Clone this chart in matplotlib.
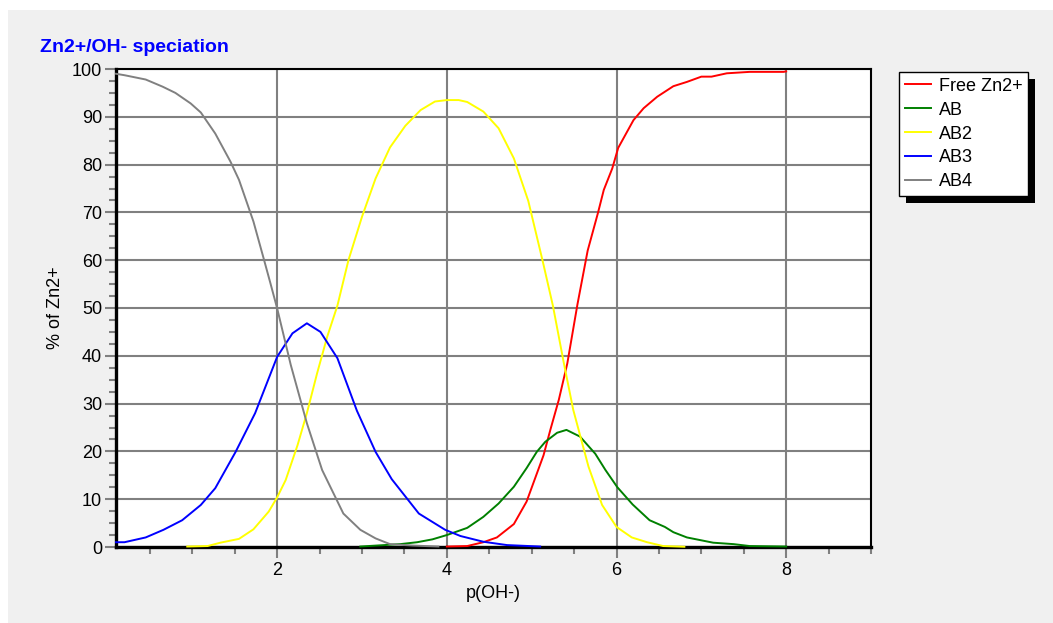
import matplotlib
matplotlib.use('Agg')
import matplotlib.pyplot as plt
from matplotlib.patches import Rectangle
from matplotlib.ticker import MultipleLocator

plt.rcParams['font.family'] = ['Liberation Sans', 'DejaVu Sans']

# series (x = p(OH-), y = % of Zn2+)
# zero stretches lie under the thick bottom axis, so they are left out
free_x = [4.0, 4.24, 4.43, 4.59, 4.79, 4.94, 5.14, 5.22, 5.32, 5.42, 5.54, 5.66, 5.78,
          5.85, 5.95, 6.02, 6.2, 6.32, 6.48, 6.67, 6.83, 7.0, 7.12, 7.3, 7.57, 7.97, 8.0]
free_y = [0.1, 0.2, 1.0, 2.0, 4.8, 9.5, 19.2, 24.5, 30.8, 38.4, 50.8, 62.0, 69.8,
          74.7, 79.2, 83.5, 89.3, 91.8, 94.2, 96.4, 97.3, 98.4, 98.4, 99.1, 99.4, 99.4, 99.5]

ab_x = [2.98, 3.45, 3.65, 3.83, 4.0, 4.24, 4.43, 4.61, 4.79, 4.94, 5.06, 5.16, 5.3,
        5.41, 5.57, 5.75, 5.87, 6.01, 6.19, 6.39, 6.57, 6.67, 6.83, 7.14, 7.38, 7.57, 8.0]
ab_y = [0.1, 0.6, 1.0, 1.6, 2.5, 4.0, 6.3, 9.1, 12.6, 16.5, 19.9, 22.0, 23.9,
        24.5, 23.1, 19.5, 16.1, 12.5, 8.9, 5.6, 4.2, 3.1, 2.0, 0.9, 0.6, 0.2, 0.1]

ab2_x = [0.94, 1.18, 1.33, 1.55, 1.72, 1.9, 2.0, 2.1, 2.24, 2.35, 2.47, 2.59, 2.71,
         2.84, 3.0, 3.16, 3.33, 3.51, 3.69, 3.86, 4.0, 4.14, 4.24, 4.43, 4.61, 4.79, 4.96,
         5.13, 5.25, 5.38, 5.49, 5.67, 5.83, 6.0, 6.18, 6.36, 6.55, 6.8]
ab2_y = [0.1, 0.2, 0.9, 1.7, 3.7, 7.4, 10.4, 14.0, 21.3, 28.0, 36.3, 44.0, 50.5,
         60.0, 69.1, 77.1, 83.6, 88.1, 91.4, 93.2, 93.5, 93.5, 93.1, 91.1, 87.6, 81.3, 72.4,
         59.8, 50.5, 38.4, 28.7, 16.8, 8.8, 4.2, 2.0, 1.0, 0.2, 0.05]

ab3_x = [0.1, 0.2, 0.45, 0.66, 0.88, 1.1, 1.27, 1.51, 1.74, 2.0, 2.18, 2.35, 2.51, 2.71,
         2.94, 3.16, 3.35, 3.67, 3.98, 4.16, 4.43, 4.71, 5.1]
ab3_y = [1.0, 1.0, 2.0, 3.6, 5.6, 8.8, 12.3, 19.9, 28.0, 39.8, 44.7, 46.8, 45.0, 39.5,
         28.5, 19.9, 14.2, 7.0, 3.6, 2.3, 1.1, 0.4, 0.1]

ab4_x = [0.1, 0.2, 0.45, 0.65, 0.8, 0.98, 1.1, 1.27, 1.45, 1.55, 1.72, 1.84, 1.92, 2.0,
         2.16, 2.35, 2.53, 2.78, 2.98, 3.16, 3.33, 3.6, 3.9]
ab4_y = [99.0, 98.7, 97.8, 96.3, 95.0, 92.8, 90.9, 86.5, 80.6, 76.8, 68.1, 60.4, 55.2, 49.9,
         38.1, 25.9, 16.1, 7.0, 3.6, 1.8, 0.6, 0.3, 0.1]

labels = ['Free Zn2+', 'AB', 'AB2', 'AB3', 'AB4']
colors = ['#ff0000', '#008000', '#ffff00', '#0000ff', '#808080']

fig = plt.figure(figsize=(10.53, 6.23), dpi=100, facecolor='white')
fig.patches.append(Rectangle((8 / 1053, 0), 1, 1 - 10 / 623, transform=fig.transFigure,
                             facecolor='#f0f0f0', edgecolor='none', zorder=-10))

ax = fig.add_axes([116 / 1053, 1 - 547 / 623, 755 / 1053, 478 / 623])
ax.set_facecolor('white')

series = [(free_x, free_y), (ab_x, ab_y), (ab2_x, ab2_y), (ab3_x, ab3_y), (ab4_x, ab4_y)]
for (xs, ys), lab, c in zip(series, labels, colors):
    ax.plot(xs, ys, color=c, lw=1.4, label=lab, zorder=3, clip_on=False)

ax.set_xlim(0.1, 9.0)
ax.set_ylim(0, 100)
ax.xaxis.set_major_locator(MultipleLocator(2))
ax.xaxis.set_minor_locator(MultipleLocator(0.5))
ax.yaxis.set_major_locator(MultipleLocator(10))
ax.yaxis.set_minor_locator(MultipleLocator(2.5))
ax.grid(True, which='major', color='#808080', lw=1.5)
ax.set_axisbelow(True)

ax.tick_params(which='major', length=8, width=1.5, color='#808080', labelsize=13, pad=3)
ax.tick_params(which='minor', length=5, width=1.5, color='#808080')
ax.tick_params(axis='y', which='major', pad=2)

for side in ['left', 'bottom']:
    ax.spines[side].set_linewidth(2.4)
for side in ['top', 'right']:
    ax.spines[side].set_linewidth(1.5)
for s in ax.spines.values():
    s.set_color('black')
    s.set_zorder(2.6)

ax.set_xlabel('p(OH-)', fontsize=13, labelpad=4)
ax.set_ylabel('% of Zn2+', fontsize=13, labelpad=6)

fig.text(40 / 1053, 1 - 48 / 623, 'Zn2+/OH- speciation', color='#0000ff', fontsize=14,
         fontweight='bold', va='center', ha='left')

leg = fig.legend(loc='upper left', bbox_to_anchor=(899 / 1053, 1 - 72 / 623),
                 borderaxespad=0, fontsize=13, frameon=True, fancybox=False,
                 edgecolor='black', framealpha=1, handlelength=1.45, handletextpad=0.42,
                 labelspacing=0.38, borderpad=0.32)
leg.get_frame().set_linewidth(1.0)
leg.set_zorder(5)

fig.canvas.draw()
bb = leg.get_window_extent()
fig.patches.append(Rectangle((bb.x0 + 7, bb.y0 - 7), bb.width, bb.height, transform=None,
                             facecolor='black', edgecolor='none', zorder=4))

fig.savefig('out.png', dpi=100, facecolor=fig.get_facecolor())
